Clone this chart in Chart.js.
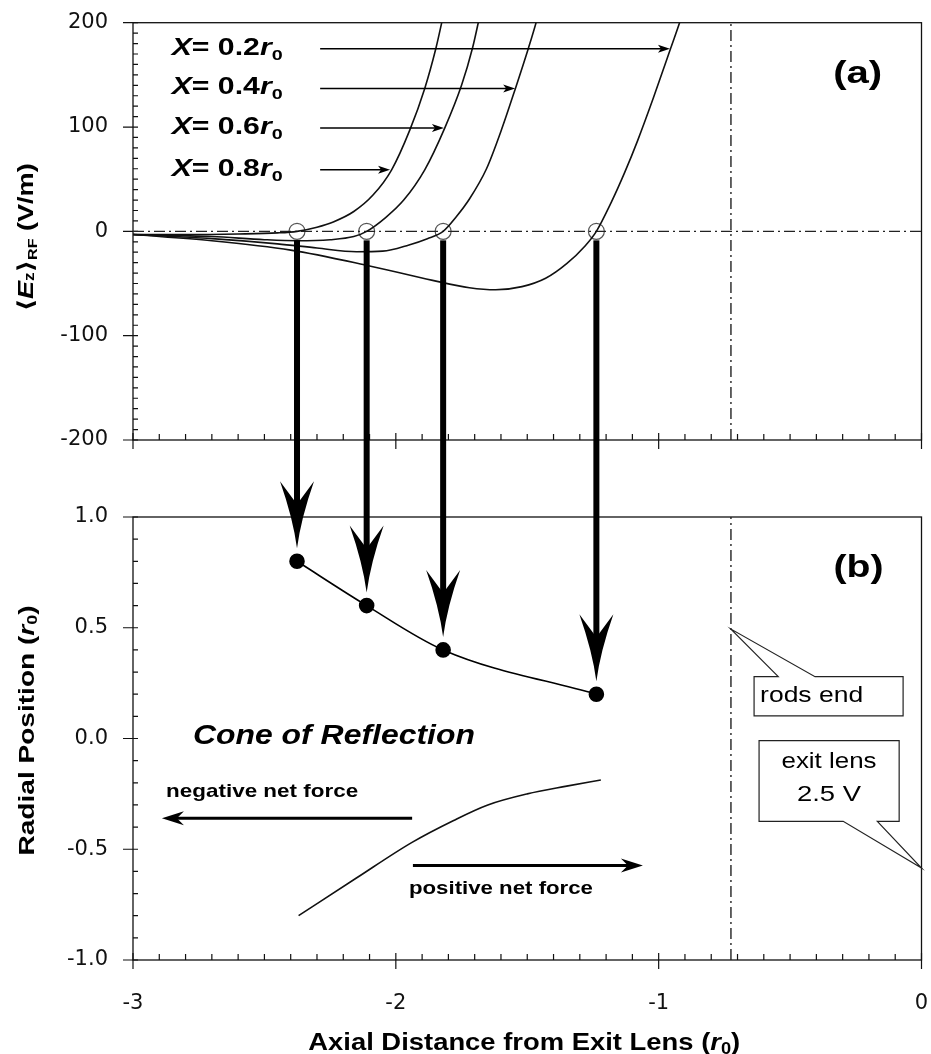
<!DOCTYPE html>
<html>
<head>
<meta charset="utf-8">
<script src="https://cdn.jsdelivr.net/npm/chart.js@4.4.1/dist/chart.umd.min.js"></script>
<style>
  html, body { margin: 0; padding: 0; background: #fff; }
  #wrap { width: 931px; height: 1054px; }
</style>
</head>
<body>
<div id="wrap"><canvas id="chart" width="931" height="1054"></canvas></div>
<script>
'use strict';

// ---- data ----
const axialTicks = [-3, -2, -1, 0];
const fieldTicks = [-200, -100, 0, 100, 200];
const radialTicks = [-1, -0.5, 0, 0.5, 1];
const radii = ['0.2', '0.4', '0.6', '0.8'];

// <Ez>RF (V/m) along the axis, one curve per radial position X
const ez02X = [-3.0, -2.7, -2.4, -2.12, -1.86, -1.72, -1.62, -1.52, -1.43, -1.35, -1.28, -1.237, -1.18, -1.13, -1.08, -1.02, -0.955, -0.91, -0.885];
const ez02Y = [-3, -9, -18, -32, -47, -54, -56, -53, -45, -31, -14, 0, 28, 56, 87, 128, 175, 208, 230];
const ez04X = [-3.0, -2.7, -2.45, -2.3, -2.15, -2.05, -1.95, -1.88, -1.82, -1.77, -1.72, -1.655, -1.6, -1.545, -1.495, -1.462, -1.44];
const ez04Y = [-3, -7, -12, -16, -19.5, -19, -13, -7, 0, 14, 31, 60, 96, 137, 176, 204, 226];
const ez06X = [-3.0, -2.7, -2.5, -2.376, -2.25, -2.16, -2.111, -2.04, -1.97, -1.89, -1.814, -1.75, -1.708, -1.683, -1.66];
const ez06Y = [-3, -5, -8, -9, -8, -5, 0, 13, 30, 59, 99, 140, 176, 204, 232];
const ez08X = [-3.0, -2.8, -2.6, -2.45, -2.376, -2.30, -2.238, -2.16, -2.086, -2.016, -1.947, -1.89, -1.848, -1.822, -1.80];
const ez08Y = [-3, -3, -2.5, -1.5, 0, 4, 9, 19, 35, 59, 97, 137, 175, 204, 230];

// zero crossings (X = 0.8, 0.6, 0.4, 0.2) and the radial position they map to
const crossX = [-2.376, -2.111, -1.82, -1.237];
const crossY = [0, 0, 0, 0];
const radialPos = [0.8, 0.6, 0.4, 0.2];

// lower boundary of the cone
const lowerX = [-2.37, -2.15, -1.94, -1.78, -1.65, -1.5, -1.35, -1.22];
const lowerY = [-0.80, -0.63, -0.47, -0.37, -0.30, -0.25, -0.215, -0.187];

const rodsEndX = -0.725;

// ---- helpers ----
const SANS = "'Liberation Sans', Arial, 'DejaVu Sans', sans-serif";

function pts(xs, ys) {
  return xs.map((x, i) => ({x: x, y: ys[i]}));
}

// draws a list of text runs, squeezed/stretched to a given width
function fitText(ctx, runs, x, y, width, align) {
  let total = 0;
  const widths = runs.map(r => {
    ctx.font = r.f;
    const w = ctx.measureText(r.t).width;
    total += w;
    return w;
  });
  const sx = width ? width / total : 1;
  ctx.save();
  ctx.translate(x, y);
  ctx.scale(sx, 1);
  ctx.textAlign = 'left';
  ctx.textBaseline = 'alphabetic';
  let cx = align === 'center' ? -total / 2 : 0;
  runs.forEach((r, i) => {
    ctx.font = r.f;
    ctx.fillText(r.t, cx, r.dy || 0);
    cx += widths[i];
  });
  ctx.restore();
}

function head(ctx, tx, ty, dx, dy, len, half, notch) {
  ctx.beginPath();
  ctx.moveTo(tx, ty);
  ctx.lineTo(tx - dx * len - dy * half, ty - dy * len + dx * half);
  ctx.lineTo(tx - dx * (len - notch), ty - dy * (len - notch));
  ctx.lineTo(tx - dx * len + dy * half, ty - dy * len - dx * half);
  ctx.closePath();
  ctx.fill();
}

function poly(ctx, p) {
  ctx.beginPath();
  p.forEach((q, i) => i ? ctx.lineTo(q[0], q[1]) : ctx.moveTo(q[0], q[1]));
  ctx.closePath();
  ctx.fillStyle = '#fff';
  ctx.fill();
  ctx.stroke();
}

const figureNotes = {
  id: 'figureNotes',
  beforeDatasetsDraw(chart) {
    const {ctx, chartArea: ca} = chart;
    const {x, ya, yb} = chart.scales;
    ctx.save();
    ctx.strokeStyle = '#111';
    ctx.lineWidth = 1.3;
    [ya, yb].forEach(s => ctx.strokeRect(ca.left, s.top, ca.right - ca.left, s.bottom - s.top));

    ctx.lineWidth = 1.2;
    ctx.beginPath();
    for (let i = 0; i <= 40; i++) {
      const py = ya.getPixelForValue(-200 + i * 10);
      ctx.moveTo(ca.left - (i % 10 === 0 ? 10 : 0), py);
      ctx.lineTo(ca.left + 5, py);
    }
    for (let i = 0; i <= 20; i++) {
      const py = yb.getPixelForValue(-1 + i * 0.1);
      ctx.moveTo(ca.left - (i % 5 === 0 ? 10 : 0), py);
      ctx.lineTo(ca.left + 5, py);
    }
    [ya, yb].forEach(s => {
      for (let i = 0; i <= 30; i++) {
        const px = x.getPixelForValue(-3 + i / 10);
        const major = i % 10 === 0;
        ctx.moveTo(px, s.bottom + (major ? 9 : 0));
        ctx.lineTo(px, s.bottom - (major ? 7 : 6));
      }
    });
    ctx.stroke();
    ctx.restore();
  },
  afterDatasetsDraw(chart) {
    const {ctx, chartArea: ca} = chart;
    const {x, ya, yb} = chart.scales;
    const X = v => x.getPixelForValue(v);
    const A = v => ya.getPixelForValue(v);
    const B = v => yb.getPixelForValue(v);
    ctx.save();
    ctx.fillStyle = '#000';
    ctx.strokeStyle = '#000';

    // thick arrows from each zero crossing down to its radial position
    crossX.forEach((cx0, i) => {
      const cx = X(cx0);
      const y1 = A(crossY[i]) + 9;
      const tip = B(radialPos[i]) - 13;
      ctx.fillRect(cx - 3, y1, 6, tip - 44 - y1 + 2);
      ctx.beginPath();
      ctx.moveTo(cx, tip);
      ctx.quadraticCurveTo(cx - 4, tip - 30, cx - 17, tip - 67);
      ctx.lineTo(cx, tip - 44);
      ctx.lineTo(cx + 17, tip - 67);
      ctx.quadraticCurveTo(cx + 4, tip - 30, cx, tip);
      ctx.fill();
    });

    // curve labels with pointers
    const tipX = [-0.957, -1.546, -1.817, -2.022];
    const rowY = [175, 137, 99, 59];
    ctx.lineWidth = 1.5;
    radii.forEach((r, i) => {
      const py = A(rowY[i]);
      fitText(ctx, [
        {t: 'X', f: 'italic bold 23px ' + SANS},
        {t: '= ' + r, f: 'bold 23px ' + SANS},
        {t: 'r', f: 'italic bold 23px ' + SANS},
        {t: '0', f: 'bold 15px ' + SANS, dy: 5}
      ], X(-2.853), py + 6, 111, 'left');
      ctx.beginPath();
      ctx.moveTo(X(-2.288), py);
      ctx.lineTo(X(tipX[i]) - 6, py);
      ctx.stroke();
      head(ctx, X(tipX[i]), py, 1, 0, 12, 4, 3);
    });

    // panel tags
    fitText(ctx, [{t: '(a)', f: 'bold 31px ' + SANS}], X(-0.243), A(153) + 11, 49, 'center');
    fitText(ctx, [{t: '(b)', f: 'bold 31px ' + SANS}], X(-0.24), B(0.779) + 11, 50, 'center');

    // cone annotations
    fitText(ctx, [{t: 'Cone of Reflection', f: 'italic bold 27px ' + SANS}], X(-2.772), B(0.02) + 10, 282, 'left');
    fitText(ctx, [{t: 'negative net force', f: 'bold 19px ' + SANS}], X(-2.874), B(-0.231) + 7, 192, 'left');
    fitText(ctx, [{t: 'positive net force', f: 'bold 19px ' + SANS}], X(-1.95), B(-0.67) + 7, 184, 'left');
    ctx.lineWidth = 3;
    ctx.beginPath();
    ctx.moveTo(X(-1.938), B(-0.36));
    ctx.lineTo(X(-2.89) + 12, B(-0.36));
    ctx.moveTo(X(-1.935), B(-0.573));
    ctx.lineTo(X(-1.06) - 12, B(-0.573));
    ctx.stroke();
    head(ctx, X(-2.89), B(-0.36), -1, 0, 22, 7, 7);
    head(ctx, X(-1.06), B(-0.573), 1, 0, 22, 7, 7);

    // callouts
    ctx.lineWidth = 1.2;
    ctx.strokeStyle = '#222';
    let L = X(-0.637), R = X(-0.070), T = B(0.279), Bo = B(0.102);
    poly(ctx, [[L, T], [X(-0.545), T], [X(rodsEndX), B(0.494)], [X(-0.405), T], [R, T], [R, Bo], [L, Bo]]);
    ctx.fillStyle = '#000';
    fitText(ctx, [{t: 'rods end', f: '22px ' + SANS}], X(-0.614), B(0.20) + 8, 103, 'left');

    L = X(-0.618); R = X(-0.085); T = B(-0.01); Bo = B(-0.374);
    poly(ctx, [[L, T], [R, T], [R, Bo], [X(-0.168), Bo], [X(0), B(-0.585)], [X(-0.298), Bo], [L, Bo]]);
    ctx.fillStyle = '#000';
    fitText(ctx, [{t: 'exit lens', f: '22px ' + SANS}], X(-0.352), B(-0.098) + 8, 95, 'center');
    fitText(ctx, [{t: '2.5 V', f: '22px ' + SANS}], X(-0.352), B(-0.245) + 8, 64, 'center');

    // axis titles
    fitText(ctx, [
      {t: 'Axial Distance from Exit Lens (', f: 'bold 24px ' + SANS},
      {t: 'r', f: 'italic bold 24px ' + SANS},
      {t: '0', f: 'bold 16px ' + SANS, dy: 4},
      {t: ')', f: 'bold 24px ' + SANS}
    ], (ca.left + ca.right) / 2 - 3, chart.height - 4, 432, 'center');

    ctx.save();
    ctx.translate(25, (ya.top + ya.bottom) / 2 + 6);
    ctx.rotate(-Math.PI / 2);
    fitText(ctx, [
      {t: '\u27E8', f: 'bold 22px ' + SANS},
      {t: 'E', f: 'italic bold 22px ' + SANS},
      {t: 'z', f: 'bold 14px ' + SANS, dy: 1},
      {t: '\u27E9', f: 'bold 22px ' + SANS},
      {t: 'RF', f: 'bold 13px ' + SANS, dy: 4},
      {t: ' (V/m)', f: 'bold 22px ' + SANS}
    ], 0, 8, 148, 'center');
    ctx.restore();

    ctx.save();
    ctx.translate(26, (yb.top + yb.bottom) / 2 - 8);
    ctx.rotate(-Math.PI / 2);
    fitText(ctx, [
      {t: 'Radial Position (', f: 'bold 22px ' + SANS},
      {t: 'r', f: 'italic bold 22px ' + SANS},
      {t: '0', f: 'bold 14px ' + SANS, dy: 3},
      {t: ')', f: 'bold 22px ' + SANS}
    ], 0, 8, 250, 'center');
    ctx.restore();

    ctx.restore();
  }
};

const curve = {
  yAxisID: 'ya',
  showLine: true,
  borderColor: '#111',
  borderWidth: 1.6,
  pointRadius: 0,
  cubicInterpolationMode: 'monotone',
  fill: false
};
const dashDot = {
  showLine: true,
  borderColor: '#222',
  borderWidth: 1.4,
  borderDash: [11, 4, 2, 4],
  pointRadius: 0,
  fill: false
};
const tickFont = {family: "'DejaVu Sans', sans-serif", size: 21};
// keep the axis boxes at fixed sizes, without label overhang padding
const fixWidth = s => {
  s.width = 133;
  s.paddingTop = 0;
  s.paddingBottom = 0;
};

new Chart(document.getElementById('chart'), {
  type: 'scatter',
  data: {
    datasets: [
      {...curve, label: 'X = 0.2 r0', data: pts(ez02X, ez02Y)},
      {...curve, label: 'X = 0.4 r0', data: pts(ez04X, ez04Y)},
      {...curve, label: 'X = 0.6 r0', data: pts(ez06X, ez06Y)},
      {...curve, label: 'X = 0.8 r0', data: pts(ez08X, ez08Y)},
      {...dashDot, label: 'zero', yAxisID: 'ya', data: [{x: -3, y: 0}, {x: 0, y: 0}]},
      {...dashDot, label: 'rods end (a)', yAxisID: 'ya', data: [{x: rodsEndX, y: -200}, {x: rodsEndX, y: 200}]},
      {...dashDot, label: 'rods end (b)', yAxisID: 'yb', data: [{x: rodsEndX, y: -1}, {x: rodsEndX, y: 1}]},
      {
        label: 'crossings', yAxisID: 'ya', data: pts(crossX, crossY), showLine: false,
        pointRadius: 8, pointBorderWidth: 1.2, pointBorderColor: '#555',
        pointBackgroundColor: 'rgba(255,255,255,0)'
      },
      {
        label: 'reflection', yAxisID: 'yb', data: pts(crossX, radialPos), showLine: true,
        borderColor: '#000', borderWidth: 1.6, cubicInterpolationMode: 'monotone',
        pointRadius: 7, pointBackgroundColor: '#000', pointBorderColor: '#000'
      },
      {...curve, label: 'lower', yAxisID: 'yb', data: pts(lowerX, lowerY)}
    ]
  },
  options: {
    responsive: false,
    animation: false,
    events: [],
    devicePixelRatio: 1,
    layout: {padding: {top: 22.7, right: 9.5, bottom: 0, left: 0}},
    plugins: {legend: {display: false}, tooltip: {enabled: false}},
    scales: {
      x: {
        type: 'linear', position: 'bottom', min: -3, max: 0,
        afterBuildTicks: s => { s.ticks = axialTicks.map(v => ({value: v})); },
        afterFit: s => {
          s.height = 94;
          s.paddingLeft = 0;
          s.paddingRight = 0;
        },
        grid: {display: false, drawTicks: false},
        border: {display: false},
        ticks: {font: tickFont, color: '#111', padding: 31, maxRotation: 0}
      },
      ya: {
        type: 'linear', axis: 'y', position: 'left', stack: 'panels', stackWeight: 417.3, weight: 3,
        min: -200, max: 200,
        afterBuildTicks: s => { s.ticks = fieldTicks.map(v => ({value: v})); },
        afterFit: fixWidth,
        grid: {display: false, drawTicks: false},
        border: {display: false},
        ticks: {font: tickFont, color: '#111', padding: 25}
      },
      gap: {
        type: 'linear', axis: 'y', position: 'left', stack: 'panels', stackWeight: 77, weight: 2,
        min: 0, max: 1,
        afterFit: fixWidth,
        grid: {display: false, drawTicks: false},
        border: {display: false},
        ticks: {display: false}
      },
      yb: {
        type: 'linear', axis: 'y', position: 'left', stack: 'panels', stackWeight: 443, weight: 1,
        min: -1, max: 1,
        afterBuildTicks: s => { s.ticks = radialTicks.map(v => ({value: v})); },
        afterFit: fixWidth,
        grid: {display: false, drawTicks: false},
        border: {display: false},
        ticks: {font: tickFont, color: '#111', padding: 25, callback: v => v.toFixed(1)}
      }
    }
  },
  plugins: [figureNotes]
});
</script>
</body>
</html>
